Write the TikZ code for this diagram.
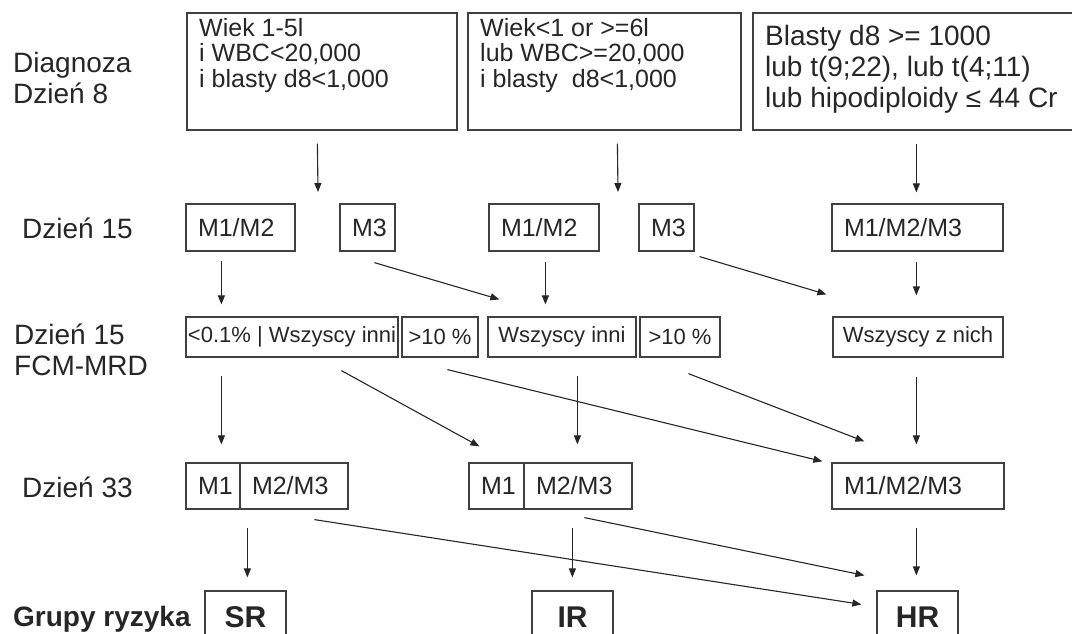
\documentclass[tikz,border=0pt]{standalone}
\usepackage{fontspec}
\setmainfont{Liberation Sans}
\usetikzlibrary{arrows.meta}

\begin{document}
\begin{tikzpicture}[x=1pt,y=-1pt,
  every node/.style={text=black!85},
  lab/.style={anchor=west,align=left,inner sep=0pt,font=\fontsize{28}{31}\selectfont},
  top/.style={draw=black!75,line width=1.2pt,minimum height=117pt},
  toptxt/.style={anchor=north west,align=left,inner sep=0pt,font=\fontsize{25}{25.5}\selectfont},
  cell/.style={draw=black!75,line width=1.2pt,inner xsep=12pt,inner ysep=0pt,align=left,
    text width=#1,minimum height=47pt,font=\fontsize{25}{27}\selectfont},
  mrd/.style={draw=black!75,line width=1.2pt,inner sep=0pt,minimum width=#1,
    minimum height=40pt,font=\fontsize{22}{24}\selectfont},
  risk/.style={draw=black!75,line width=1.2pt,minimum width=81pt,minimum height=52pt,
    font=\fontsize{30}{32}\selectfont\bfseries},
  arr/.style={-{Triangle[length=9pt,width=7pt]},line width=1.1pt,draw=black!85}]
\clip (0,0) rectangle (1072,633);

\node[lab] (l1) at (13,78) {Diagnoza\\Dzień 8};
\node[lab] (l2) at (22,228) {Dzień 15};
\node[lab] (l3) at (14,350) {Dzień 15\\FCM-MRD};
\node[lab] (l4) at (22,487) {Dzień 33};
\node[lab,anchor=base west,font=\fontsize{28}{31}\selectfont\bfseries] (l5) at (13,626) {Grupy ryzyka};

\node[top,minimum width=270pt] (d1) at (322,71.5) {};
\node[top,minimum width=273pt] (d2) at (604.5,71.5) {};
\node[top,minimum width=332pt] (d3) at (919,71.5) {};
\node[toptxt] (d1t) at (199,18) {Wiek 1-5l\\i WBC<20,000\\i blasty d8<1,000};
\node[toptxt] (d2t) at (480,18) {Wiek<1 or >=6l\\lub WBC>=20,000\\i blasty\ \ d8<1,000};
\node[toptxt,font=\fontsize{28}{31}\selectfont] (d3t) at (765,25) {Blasty d8 >= 1000\\lub t(9;22), lub t(4;11)\\lub hipodiploidy ≤ 44 Cr};

\node[cell=85pt] (r2a) at (240.5,227.5) {M1/M2};
\node[cell=31pt] (r2b) at (367.5,227.5) {M3};
\node[cell=86pt] (r2c) at (544,227.5) {M1/M2};
\node[cell=31pt] (r2d) at (666.5,227.5) {M3};
\node[cell=147pt] (r2e) at (917.5,227.5) {M1/M2/M3};

\node[mrd=212pt] (r3a) at (292,337) {<0.1\% | Wszyscy inni};
\node[mrd=76pt] (r3b) at (440,337) {>10 \%};
\node[mrd=148pt] (r3c) at (562,337) {Wszyscy inni};
\node[mrd=80pt] (r3d) at (680,337) {>10 \%};
\node[mrd=170pt] (r3e) at (918,337) {Wszyscy z nich};

\node[cell=30pt,minimum height=46pt] (r4a1) at (213,486) {M1};
\node[cell=84pt,minimum height=46pt] (r4a2) at (294,486) {M2/M3};
\node[cell=31pt,minimum height=46pt] (r4b1) at (496.5,486) {M1};
\node[cell=84pt,minimum height=46pt] (r4b2) at (578,486) {M2/M3};
\node[cell=148pt,minimum height=46pt] (r4c) at (918,486) {M1/M2/M3};

\node[risk] (sr) at (245.5,617) {SR};
\node[risk] (ir) at (572.5,617) {IR};
\node[risk] (hr) at (917.5,617) {HR};

\coordinate (c1) at (318,192);
\coordinate (c2) at (618,192);

\draw[arr] ([shift={(131,13)}]d1.south west) -- (c1);
\draw[arr] ([shift={(150,13)}]d2.south west) -- (c2);
\draw[arr] ([shift={(164,13)}]d3.south west) -- ([shift={(85,-11)}]r2e.north west);

\draw[arr] ([shift={(36,9)}]r2a.south west) -- ([shift={(36,-12)}]r3a.north west);
\draw[arr] ([shift={(35,11)}]r2b.south west) -- ([shift={(12,-17)}]r3c.north west);
\draw[arr] ([shift={(57,10)}]r2c.south west) -- ([shift={(58,-12)}]r3c.north west);
\draw[arr] ([shift={(5,5)}]r2d.south east) -- ([shift={(-6,-22)}]r3e.north west);
\draw[arr] ([shift={(85,10)}]r2e.south west) -- ([shift={(84,-21)}]r3e.north west);

\draw[arr] ([shift={(36,18)}]r3a.south west) -- ([shift={(36,-18)}]r4a1.north west);
\draw[arr] ([shift={(156,13)}]r3a.south west) -- ([shift={(11,-16)}]r4b1.north west);
\draw[arr] ([shift={(46,12)}]r3b.south west) -- ([shift={(-9,-1)}]r4c.north west);
\draw[arr] ([shift={(90,18)}]r3c.south west) -- ([shift={(54,-18)}]r4b2.north west);
\draw[arr] ([shift={(49,16)}]r3d.south west) -- ([shift={(33,-21)}]r4c.north west);
\draw[arr] ([shift={(84,19)}]r3e.south west) -- ([shift={(85,-18)}]r4c.north west);

\draw[arr] ([shift={(8,18)}]r4a2.south west) -- ([shift={(43,-13)}]sr.north west);
\draw[arr] ([shift={(75,10)}]r4a2.south west) -- ([shift={(-15,14)}]hr.north west);
\draw[arr] ([shift={(49,18)}]r4b2.south west) -- ([shift={(41,-13)}]ir.north west);
\draw[arr] ([shift={(61,8)}]r4b2.south west) -- ([shift={(-12,-15)}]hr.north west);
\draw[arr] ([shift={(85,18)}]r4c.south west) -- ([shift={(40,-15)}]hr.north west);
\end{tikzpicture}
\end{document}
